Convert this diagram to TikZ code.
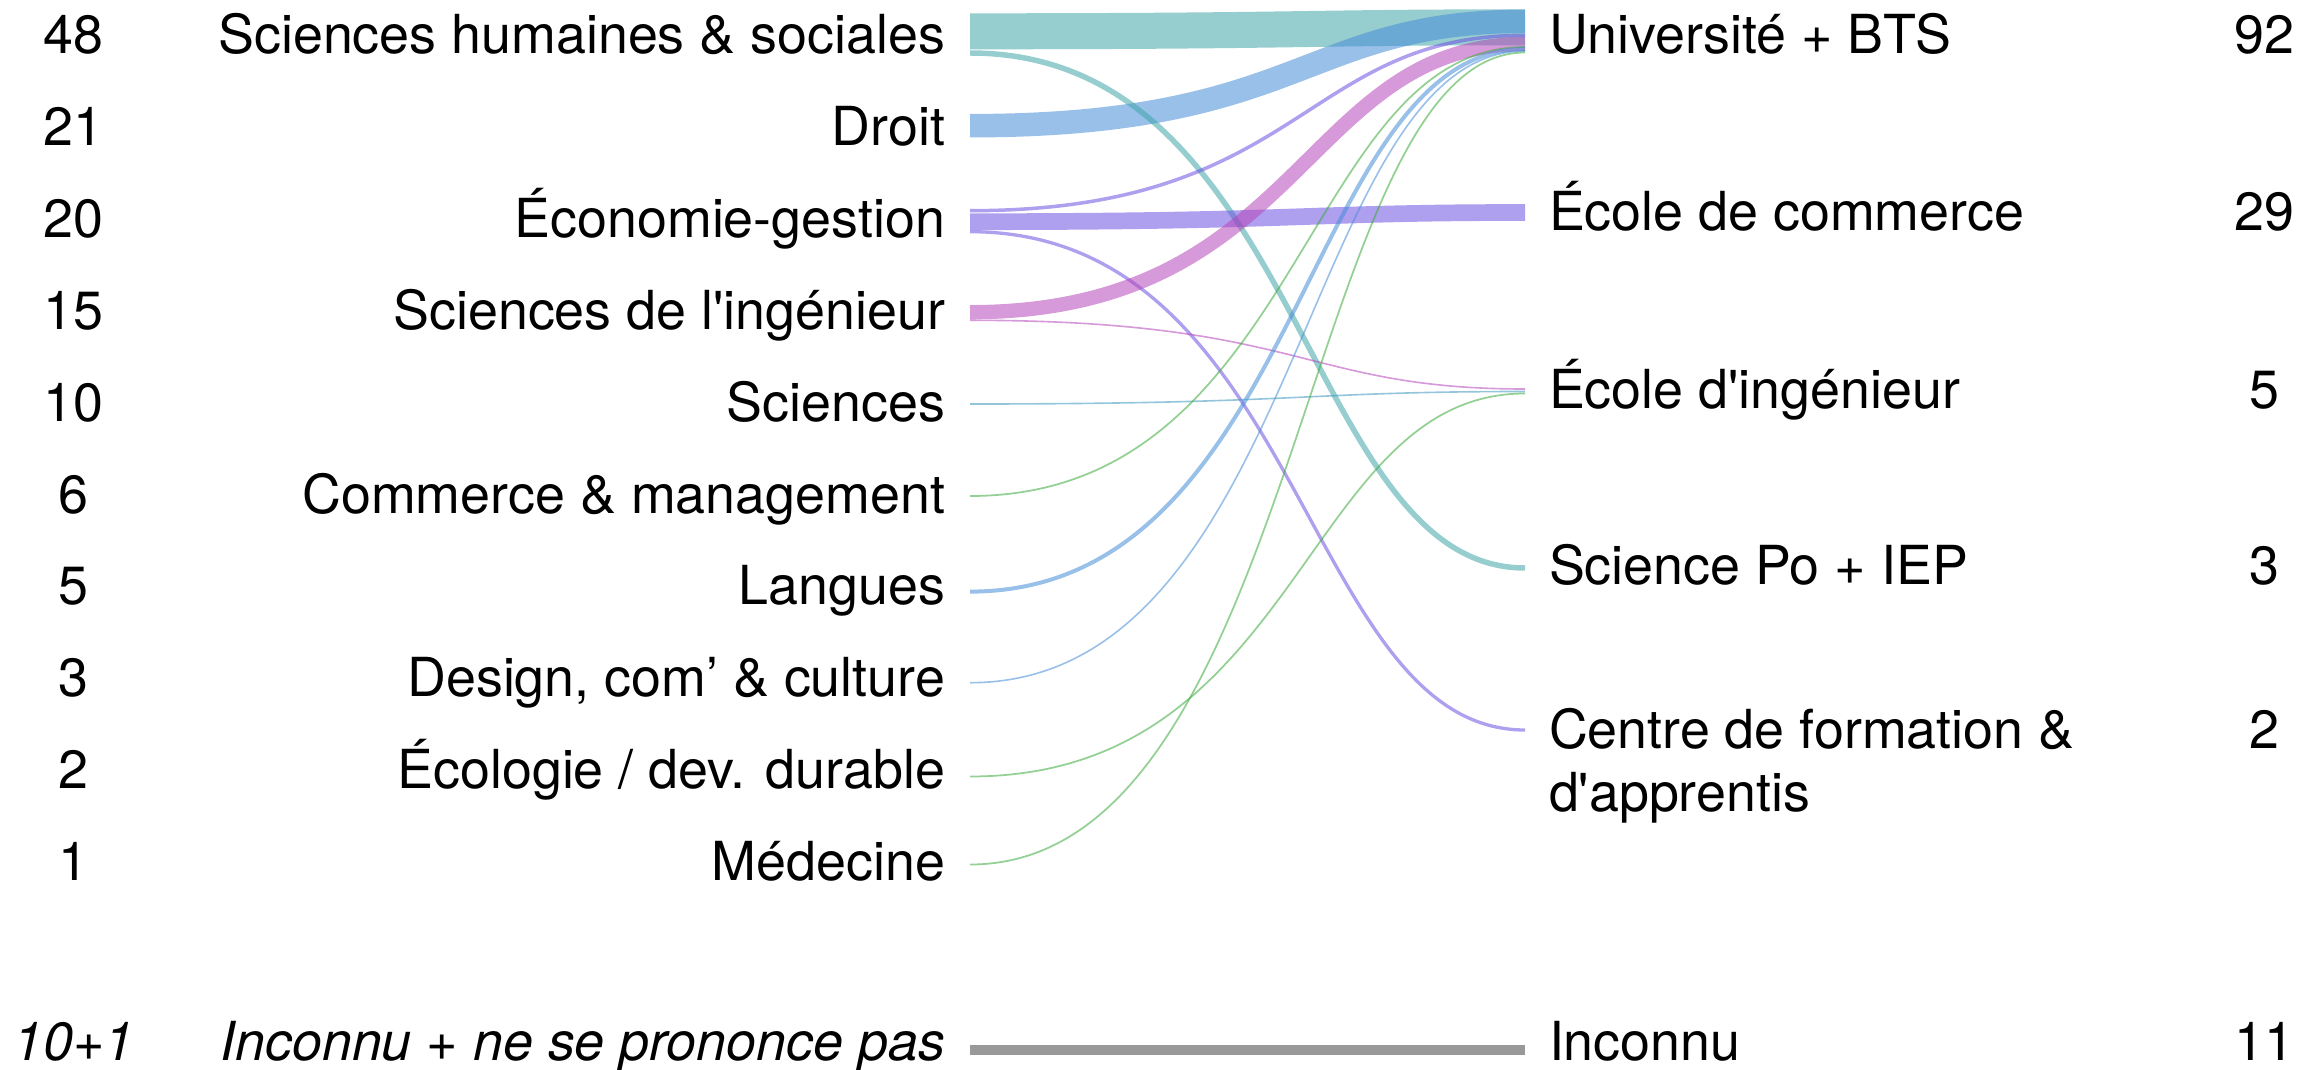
\documentclass[tikz,border=0pt]{standalone}
\usepackage{fontspec}
\setmainfont{TeX Gyre Heros}[Ligatures=TeXOff]
\usetikzlibrary{calc}
\definecolor{tealF}{RGB}{64,164,168}
\definecolor{blueF}{RGB}{70,140,215}
\definecolor{purpF}{RGB}{110,80,225}
\definecolor{pinkF}{RGB}{180,70,185}
\definecolor{greenF}{RGB}{60,170,60}
\definecolor{sciF}{RGB}{60,150,190}
\definecolor{grayF}{RGB}{153,153,153}
\newcommand\sflow[4]{\draw[#1,line width=#4] let \p1=(#2), \p2=(#3) in (#2) .. controls ({\x1+0.6*(\x2-\x1)},\y1) and ({\x1+0.6*(\x2-\x1)},\y2) .. (#3);}
\begin{document}
\begin{tikzpicture}[x=0.01cm,y=-0.01cm,
  font=\fontsize{15.3pt}{18pt}\selectfont,
  lab/.style={inner sep=0pt,outer sep=0pt},
  llab/.style={lab,anchor=base east},
  rlab/.style={lab,anchor=base west},
  num/.style={lab,anchor=base},
  fl/.style={draw opacity=0.55,line cap=butt}]
\useasboundingbox (0,0) rectangle (2315,1070);
% left labels
\node[num] (n1) at (73.8,53.5) {48};
\node[num] (n2) at (73.8,145.4) {21};
\node[num] (n3) at (73.8,237.3) {20};
\node[num] (n4) at (73.8,329.2) {15};
\node[num] (n5) at (73.8,421.1) {10};
\node[num] (n6) at (73.8,513.0) {6};
\node[num] (n7) at (73.8,604.9) {5};
\node[num] (n8) at (73.8,696.8) {3};
\node[num] (n9) at (73.8,788.7) {2};
\node[num] (n10) at (73.8,880.6) {1};
\node[num] (n11) at (73.8,1060.5) {\itshape 10+1};
\node[llab] (L1) at (945,53.5) {Sciences humaines \& sociales};
\node[llab] (L2) at (945,145.4) {Droit};
\node[llab] (L3) at (945,237.3) {Économie-gestion};
\node[llab] (L4) at (945,329.2) {Sciences de l'ingénieur};
\node[llab] (L5) at (945,421.1) {Sciences};
\node[llab] (L6) at (945,513.0) {Commerce \& management};
\node[llab] (L7) at (945,604.9) {Langues};
\node[llab] (L8) at (945,696.8) {Design, com’ \& culture};
\node[llab] (L9) at (945,788.7) {Écologie / dev. durable};
\node[llab] (L10) at (945,880.6) {Médecine};
\node[llab] (L11) at (945,1060.5) {\itshape Inconnu + ne se prononce pas};
% right labels
\node[rlab] (R1) at (1549,53.9) {Université + BTS};
\node[rlab] (R2) at (1549,231) {École de commerce};
\node[rlab] (R3) at (1549,408.3) {École d'ingénieur};
\node[rlab] (R4) at (1549,584) {Science Po + IEP};
\node[rlab] (R5) at (1549,748) {Centre de formation \&};
\node[rlab] (R5b) at (1549,811.5) {d'apprentis};
\node[rlab] (R6) at (1549,1060.5) {Inconnu};
\node[num] (m1) at (2264,53.9) {92};
\node[num] (m2) at (2264,231) {29};
\node[num] (m3) at (2264,408.3) {5};
\node[num] (m4) at (2264,584) {3};
\node[num] (m5) at (2264,748) {2};
\node[num] (m6) at (2264,1060.5) {11};
% flow end points
\coordinate (shsA) at (970,31.3);   \coordinate (univA) at (1525,27.3);
\coordinate (shsB) at (970,53);     \coordinate (spoA) at (1525,568);
\coordinate (droA) at (970,125.7);  \coordinate (univB) at (1525,21.3);
\coordinate (ecoA) at (970,210.7);  \coordinate (univC) at (1525,35.3);
\coordinate (ecoB) at (970,221.7);  \coordinate (comA) at (1525,212.5);
\coordinate (ecoC) at (970,231.7);  \coordinate (cfaA) at (1525,730);
\coordinate (siA) at (970,312.2);   \coordinate (univD) at (1525,44);
\coordinate (siB) at (970,320.3);   \coordinate (ingA) at (1525,389);
\coordinate (sciA) at (970,404);    \coordinate (ingB) at (1525,391.5);
\coordinate (cmA) at (970,496);     \coordinate (univE) at (1525,47);
\coordinate (lanA) at (970,591.6);  \coordinate (univF) at (1525,49);
\coordinate (desA) at (970,682.7);  \coordinate (univG) at (1525,51);
\coordinate (ecoloA) at (970,776.5);\coordinate (ingC) at (1525,393.5);
\coordinate (medA) at (970,864.5);  \coordinate (univH) at (1525,52.5);
\coordinate (incA) at (970,1050);   \coordinate (incB) at (1525,1050);
% flows
\sflow{fl,tealF}{shsA}{univA}{10.24pt}
\sflow{fl,blueF}{droA}{univB}{6.69pt}
\sflow{fl,tealF}{shsB}{spoA}{1.56pt}
\sflow{fl,purpF}{ecoA}{univC}{1.0pt}
\sflow{fl,purpF}{ecoB}{comA}{4.75pt}
\sflow{fl,purpF}{ecoC}{cfaA}{0.94pt}
\sflow{fl,pinkF}{siA}{univD}{4.07pt}
\sflow{fl,pinkF}{siB}{ingA}{0.46pt}
\sflow{fl,sciF}{sciA}{ingB}{0.46pt}
\sflow{fl,greenF}{cmA}{univE}{0.5pt}
\sflow{fl,blueF}{lanA}{univF}{1.14pt}
\sflow{fl,blueF}{desA}{univG}{0.46pt}
\sflow{fl,greenF}{ecoloA}{ingC}{0.5pt}
\sflow{fl,greenF}{medA}{univH}{0.5pt}
\draw[grayF,line width=3pt] (incA) -- (incB);
\end{tikzpicture}
\end{document}
